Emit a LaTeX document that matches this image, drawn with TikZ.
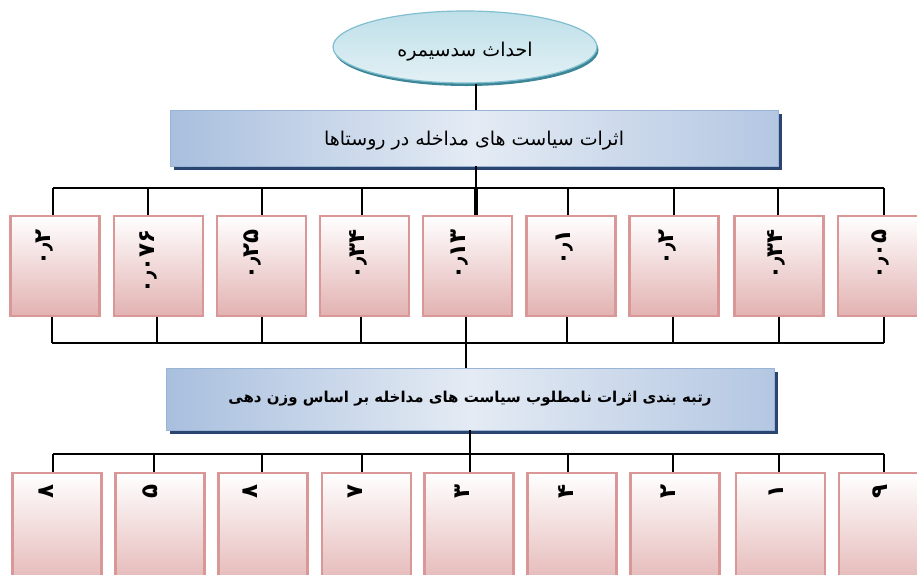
\documentclass[tikz,border=0pt]{standalone}
\usepackage{fontspec}
\newfontfamily\arabicfont[Script=Arabic]{DejaVu Sans}
\TeXXeTstate=1
\usetikzlibrary{shapes.geometric,shadows}
\definecolor{cyanT}{HTML}{BEDFE9}
\definecolor{cyanB}{HTML}{E3F1F5}
\definecolor{cyanD}{HTML}{80BFD0}
\definecolor{cyanS}{HTML}{3D8697}
\definecolor{blueL}{HTML}{A9BFDE}
\definecolor{blueM}{HTML}{E4EBF4}
\definecolor{blueR}{HTML}{B4C7E2}
\definecolor{blueD}{HTML}{9AB4D6}
\definecolor{navyS}{HTML}{2A4670}
\definecolor{pinkB}{HTML}{E2B2B1}
\definecolor{pinkD}{HTML}{DA9797}
\tikzset{
  oval/.style={ellipse, minimum width=264pt, minimum height=72pt, draw=cyanD, line width=1.2pt,
    top color=cyanT, bottom color=cyanB,
    drop shadow={shadow xshift=1.5pt, shadow yshift=-3pt, fill=cyanS, opacity=1},
    font=\arabicfont\fontsize{19}{22}\selectfont, text height=20pt, text depth=2pt},
  bluebox/.style={rectangle, draw=blueD, line width=0.8pt, left color=blueL, right color=blueR, middle color=blueM,
    drop shadow={shadow xshift=4pt, shadow yshift=-4pt, fill=navyS, opacity=1}},
  pinkbox/.style={rectangle, draw=pinkD, line width=2.2pt, top color=white, bottom color=pinkB,
    minimum width=89pt, minimum height=100pt, inner sep=0pt},
  numlab/.style={rotate=90, anchor=east, inner sep=0pt, font=\arabicfont\bfseries\fontsize{23}{28}\selectfont},
  conn/.style={draw=black, line width=1.3pt},
  thickconn/.style={draw=black, line width=3.6pt}
}
\begin{document}
\begin{tikzpicture}[x=1pt,y=-1pt]
\clip (0,0) rectangle (917,574);
\fill[white] (0,0) rectangle (917,574);

% bus coordinates
\coordinate (busA1) at (53,188);  \coordinate (busA2) at (884,188);
\coordinate (busB1) at (52,343);  \coordinate (busB2) at (884,343);
\coordinate (busC1) at (53,454);  \coordinate (busC2) at (884,454);
\coordinate (c0) at (476,0);
\coordinate (c1) at (466,0);
\coordinate (c2) at (470,0);

% main nodes
\node[oval] (top) at (465,47) {\beginR احداث سدسیمره\endR};
\node[bluebox, minimum width=608pt, minimum height=56pt, text height=17pt, text depth=3pt,
      font=\arabicfont\fontsize{19}{22}\selectfont] (b1) at (474,138)
      {\beginR اثرات سیاست های مداخله در روستاها\endR};
\node[bluebox, minimum width=608pt, minimum height=62pt,
      font=\arabicfont\bfseries\fontsize{15}{18}\selectfont] (b2) at (470,399)
      {\beginR رتبه بندی اثرات نامطلوب سیاست های مداخله بر اساس وزن دهی\endR};

% buses
\draw[conn] (busA1) -- (busA2);
\draw[conn] (busB1) -- (busB2);
\draw[conn] (busC1) -- (busC2);
\draw[conn] (top.south -| c0) -- (b1.north -| c0);
\draw[conn] (b1.south -| c0) -- (busA1 -| c0);
\draw[conn] (busB1 -| c1) -- (b2.north -| c1);
\draw[conn] (b2.south -| c2) -- (busC1 -| c2);

% top row
\foreach \i/\cx/\tx/\up/\dn/\lab in {
  1/55/45/53/52/{۰٫۲},
  2/158.5/148/148/157/{۰٫۰۷۶},
  3/261.5/252/262/262/{۰٫۲۵},
  4/364.5/358/362/361/{۰٫۳۴},
  5/467.5/460/476/466/{۰٫۱۳},
  6/571/565/568/567/{۰٫۱},
  7/674/668/674/673/{۰٫۲},
  8/779/776/778/779/{۰٫۳۴},
  9/882.5/880/884/884/{۰٫۰۵}} {
  \coordinate (tu\i) at (\up,0);
  \coordinate (td\i) at (\dn,0);
  \node[pinkbox] (t\i) at (\cx,266) {};
  \node[numlab] (n\i) at (\tx,229) {\lab};
  \draw[conn] (t\i.south -| td\i) -- (busB1 -| td\i);
}
\foreach \i in {1,2,3,4,6,7,8,9} {
  \draw[conn] (busA1 -| tu\i) -- (t\i.north -| tu\i);
}
\draw[thickconn] (busA1 -| tu5) -- (t5.north -| tu5);

% bottom row
\foreach \i/\cx/\tx/\up/\lab in {
  1/57/46/53/{۸},
  2/160/150/154/{۵},
  3/263/250/262/{۸},
  4/366.5/355/362/{۷},
  5/469/462/470/{۳},
  6/572/566/568/{۴},
  7/675/668/673/{۲},
  8/780.5/776/779/{۱},
  9/883.5/880/884/{۹}} {
  \coordinate (bu\i) at (\up,0);
  \node[pinkbox, minimum height=120pt] (u\i) at (\cx,533) {};
  \node[numlab] (m\i) at (\tx,484) {\lab};
  \draw[conn] (busC1 -| bu\i) -- (u\i.north -| bu\i);
}
\end{tikzpicture}
\end{document}
